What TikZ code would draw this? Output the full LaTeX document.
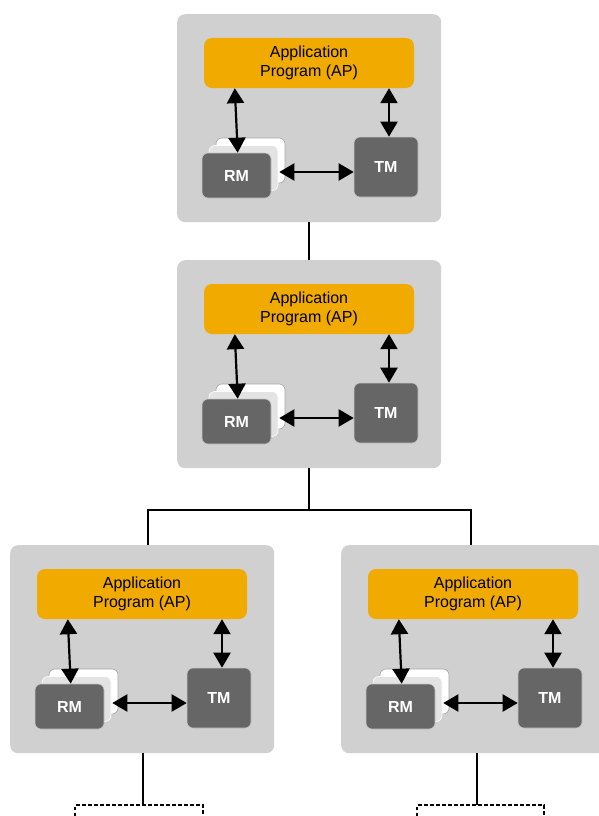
\documentclass[tikz,border=0pt]{standalone}
\usepackage{fontspec}
\setmainfont{Liberation Sans}
\usetikzlibrary{arrows.meta}
\usetikzlibrary{calc}
\definecolor{boxgray}{RGB}{208,208,208}
\definecolor{apgold}{RGB}{240,170,0}
\definecolor{mgrdark}{RGB}{102,102,102}
\tikzset{
  unitbox/.style={fill=boxgray,rounded corners=8pt,minimum width=264pt,minimum height=208pt,inner sep=0pt,anchor=north west},
  apbox/.style={fill=apgold,rounded corners=8pt,minimum width=210pt,minimum height=50pt,inner sep=0pt,align=center,font=\fontsize{16}{19}\selectfont},
  mgrbox/.style={fill=mgrdark,draw=gray!45,line width=0.6pt,rounded corners=6pt,inner sep=0pt,text=white,font=\fontsize{16}{18}\selectfont\bfseries},
  copybox/.style={rounded corners=6pt,line width=0.6pt,minimum width=69pt,minimum height=45pt,inner sep=0pt},
  dblarrow/.style={arrows={Triangle[length=15pt,width=17pt]-Triangle[length=15pt,width=17pt]},line width=2.2pt},
  link/.style={line width=2pt},
  openlink/.style={line width=2pt,dash pattern=on 3.5pt off 2.5pt}
}
\begin{document}
\begin{tikzpicture}[x=1pt,y=-1pt]
  \useasboundingbox (0,0) rectangle (599,816);
  % four units: AP, RM, TM
  \foreach \name/\px/\py in {ua/177/14, ub/177/260, uc/10/545, ud/341/545}{
    \node[unitbox] (\name) at (\px,\py) {};
    \begin{scope}[shift={(\px,\py)}]
      \node[apbox] (\name-ap) at (132,49) {Application\\Program (AP)};
      \node[copybox,fill=white,draw=gray!70] (\name-rmb) at (73.5,146.5) {};
      \node[copybox,fill=gray!22,draw=white] (\name-rma) at (66.5,154) {};
      \node[mgrbox,minimum width=69pt,minimum height=45pt] (\name-rm) at (59.5,161.5) {RM};
      \node[mgrbox,minimum width=64pt,minimum height=60pt] (\name-tm) at (209,153) {TM};
    \end{scope}
    \draw[dblarrow] ($(\name-ap.south west)+(31,0)$) -- ($(\name-rm.north west)+(36,0)$);
    \draw[dblarrow] ($(\name-ap.south -| \name-tm.north)+(3,0)$) -- ($(\name-tm.north)+(3,0)$);
    \draw[dblarrow] ($(\name-rm.east)+(8,-3.5)$) -- ($(\name-tm.west)+(0,5)$);
  }
  % tree links
  \draw[link] (ua.south) -- (ub.north);
  \draw[link] (ub.south) -- ++(0,42) coordinate (split);
  \draw[link] (split) -| ($(uc.north)+(6,0)$);
  \draw[link] (split) -| ($(ud.north)+(-2,0)$);
  \draw[link] ($(uc.south)+(1,0)$) -- ++(0,52) coordinate (uc-end);
  \draw[link] ($(ud.south)+(4,0)$) -- ++(0,52) coordinate (ud-end);
  \draw[openlink] ($(uc-end)+(-68,11)$) -- ++(0,-11) -- ++(128,0) -- ++(0,11);
  \draw[openlink] ($(ud-end)+(-60,11)$) -- ++(0,-11) -- ++(127,0) -- ++(0,11);
\end{tikzpicture}
\end{document}
